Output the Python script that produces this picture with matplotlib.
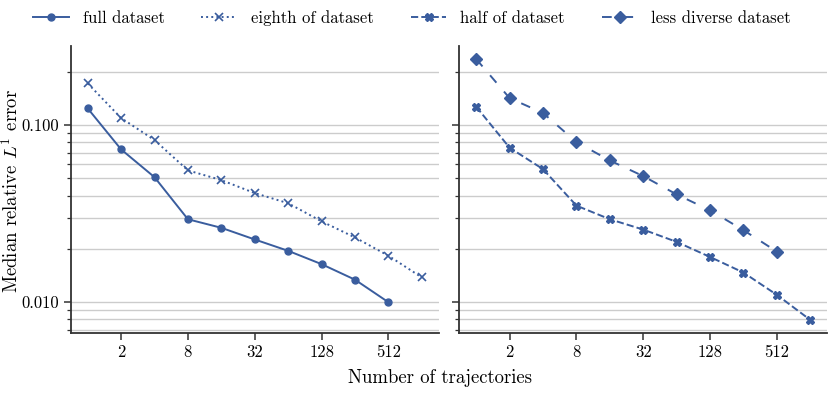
import matplotlib
matplotlib.use("Agg")
from matplotlib import pyplot as plt
from matplotlib.ticker import FixedLocator, FixedFormatter, LogLocator, NullFormatter, NullLocator

# number of trajectories
traj = [1, 2, 4, 8, 16, 32, 64, 128, 256, 512, 1024]

full_err = [0.1243, 0.0729, 0.0508, 0.0294, 0.0263, 0.0226, 0.0195, 0.0164, 0.0134, 0.0100]
eighth_err = [0.172, 0.1096, 0.0823, 0.0555, 0.0489, 0.0413, 0.0362, 0.0286, 0.0232, 0.0183, 0.0138]
half_err = [0.127, 0.0745, 0.0564, 0.0351, 0.0294, 0.0257, 0.0219, 0.0180, 0.0147, 0.0110, 0.00794]
diverse_err = [0.236, 0.142, 0.117, 0.0802, 0.0631, 0.0515, 0.0406, 0.0330, 0.0255, 0.0193]

xtick_vals = [2, 8, 32, 128, 512]
xtick_labels = ["2", "8", "32", "128", "512"]
ytick_vals = [0.01, 0.1]
ytick_labels = ["0.010", "0.100"]

col = "#3a5d9e"
spine_col = "#333333"

plt.rcParams["font.family"] = "serif"
plt.rcParams["font.serif"] = ["cmr10", "DejaVu Serif"]
plt.rcParams["mathtext.fontset"] = "cm"
plt.rcParams["axes.formatter.use_mathtext"] = True
plt.rcParams["font.size"] = 12

fig, axes = plt.subplots(1, 2, figsize=(8.31, 3.93), dpi=100, sharex=True, sharey=True)
fig.subplots_adjust(left=0.0854, right=0.9952, bottom=0.1527, top=0.883, wspace=0.057)

ax1, ax2 = axes
h1, = ax1.plot(traj[:len(full_err)], full_err, color=col, lw=1.4, marker="o", ms=5,
               label="full dataset")
h2, = ax1.plot(traj[:len(eighth_err)], eighth_err, color=col, lw=1.4, ls=":", marker="x",
               ms=5.5, mew=1.2, label="eighth of dataset")
h3, = ax2.plot(traj[:len(half_err)], half_err, color=col, lw=1.4, ls="--", marker="X",
               ms=5.5, label="half of dataset")
h4, = ax2.plot(traj[:len(diverse_err)], diverse_err, color=col, lw=1.4, ls=(0, (5, 6)),
               marker="D", ms=6, label="less diverse dataset")

for ax in axes:
    ax.set_xscale("log", base=2)
    ax.set_yscale("log")
    ax.xaxis.set_major_locator(FixedLocator(xtick_vals))
    ax.xaxis.set_major_formatter(FixedFormatter(xtick_labels))
    ax.xaxis.set_minor_locator(NullLocator())
    ax.yaxis.set_major_locator(FixedLocator(ytick_vals))
    ax.yaxis.set_major_formatter(FixedFormatter(ytick_labels))
    ax.yaxis.set_minor_locator(LogLocator(base=10, subs=range(2, 10)))
    ax.yaxis.set_minor_formatter(NullFormatter())
    ax.grid(True, which="both", axis="y", color="#cccccc", lw=1.0)
    ax.set_axisbelow(True)
    for s in ["top", "right"]:
        ax.spines[s].set_visible(False)
    for s in ["left", "bottom"]:
        ax.spines[s].set_color(spine_col)
        ax.spines[s].set_linewidth(1.3)
    ax.tick_params(which="major", length=5, width=1.1, color=spine_col)
    ax.tick_params(which="minor", length=3, width=0.9, color=spine_col)
    ax.tick_params(axis="y", which="both", labelleft=(ax is ax1))

fig.text(11.5 / 831, 0.515, "Median relative $L^1$ error", rotation=90,
         ha="center", va="center", fontsize=13.5)
fig.text(440 / 831, 1 - 378 / 393, "Number of trajectories", ha="center", va="center",
         fontsize=13.5)

fig.legend(handles=[h1, h2, h3, h4], loc="center left", ncol=4, frameon=False,
           bbox_to_anchor=(33 / 831, 1 - 18 / 393), borderaxespad=0, borderpad=0,
           handlelength=2.15, handletextpad=0.84, columnspacing=2.2)

plt.savefig("out.png", dpi=100)
